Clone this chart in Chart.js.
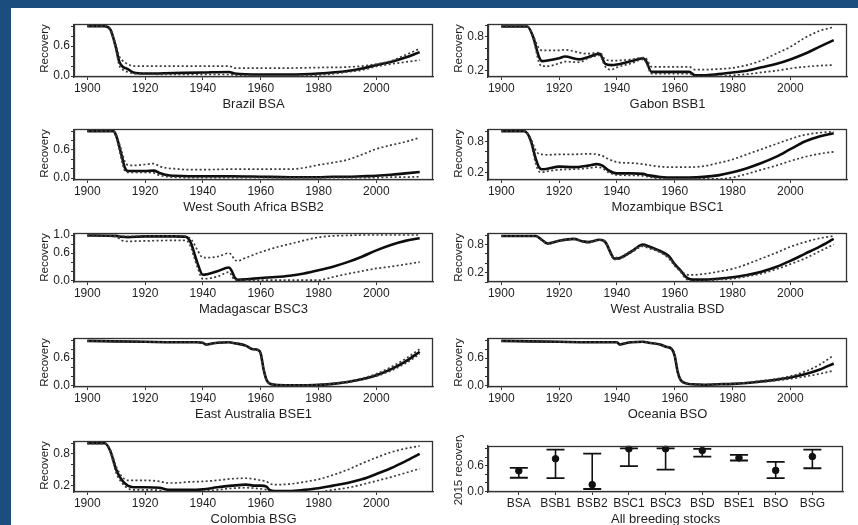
<!DOCTYPE html>
<html>
<head>
<meta charset="utf-8">
<script src="https://cdn.jsdelivr.net/npm/chart.js@4.4.1/dist/chart.umd.min.js"></script>
<style>
  html, body { margin: 0; padding: 0; }
  body { width: 858px; height: 525px; background: #1b4e7f; position: relative; overflow: hidden; }
  #sheet { position: absolute; left: 11px; top: 8px; width: 847px; height: 517px; background: #fff; }
  canvas { position: absolute; }
</style>
</head>
<body>
<div id="sheet"></div>
<script>
// --- Brazil BSA
const braYears = [1900,1906,1908,1910,1911,1912,1914,1916,1920,1930,1940,1949,1951,1960,1970,1980,1990,1995,2000,2005,2010,2015];
const braMid = [1.0,1.0,0.93,0.55,0.3,0.2,0.14,0.07,0.05,0.06,0.07,0.08,0.05,0.03,0.03,0.05,0.1,0.15,0.22,0.28,0.37,0.48];
const braHi  = [1.0,1.0,0.94,0.6,0.4,0.32,0.24,0.2,0.2,0.2,0.2,0.2,0.16,0.16,0.16,0.17,0.18,0.2,0.24,0.3,0.42,0.55];
const braLo  = [1.0,1.0,0.92,0.5,0.22,0.14,0.08,0.05,0.04,0.03,0.03,0.03,0.02,0.01,0.01,0.02,0.08,0.12,0.19,0.24,0.28,0.32];

// --- Gabon BSB1
const gabYears = [1900,1909,1911,1913,1914,1916,1920,1922,1927,1930,1934,1936,1938,1940,1945,1949,1950,1952,1956,1960,1965,1967,1970,1975,1980,1985,1990,1995,2000,2005,2010,2015];
const gabMid = [0.98,0.98,0.8,0.45,0.37,0.38,0.42,0.45,0.4,0.44,0.5,0.32,0.3,0.31,0.37,0.42,0.38,0.18,0.18,0.18,0.18,0.12,0.12,0.14,0.17,0.2,0.26,0.32,0.4,0.5,0.62,0.74];
const gabHi  = [0.98,0.98,0.82,0.6,0.56,0.56,0.56,0.57,0.52,0.5,0.52,0.4,0.38,0.38,0.4,0.43,0.42,0.27,0.27,0.27,0.27,0.22,0.22,0.23,0.25,0.3,0.38,0.5,0.62,0.78,0.9,0.97];
const gabLo  = [0.98,0.98,0.78,0.35,0.28,0.28,0.33,0.36,0.35,0.42,0.47,0.27,0.22,0.26,0.33,0.4,0.35,0.15,0.15,0.15,0.15,0.1,0.1,0.1,0.12,0.14,0.17,0.2,0.24,0.27,0.29,0.3];

// --- West South Africa BSB2
const wsaYears = [1900,1909,1910,1912,1913,1914,1916,1920,1923,1925,1928,1930,1935,1940,1950,1960,1970,1975,1980,1985,1990,1995,2000,2005,2010,2015];
const wsaMid = [1.0,1.0,0.9,0.45,0.22,0.15,0.15,0.15,0.16,0.11,0.06,0.05,0.04,0.04,0.04,0.03,0.02,0.02,0.02,0.03,0.03,0.04,0.05,0.07,0.1,0.13];
const wsaHi  = [1.0,1.0,0.92,0.55,0.35,0.28,0.27,0.29,0.31,0.25,0.21,0.2,0.18,0.18,0.19,0.19,0.19,0.22,0.28,0.33,0.39,0.5,0.62,0.7,0.77,0.86];
const wsaLo  = [1.0,1.0,0.88,0.35,0.15,0.12,0.12,0.12,0.11,0.06,0.03,0.02,0.01,0.01,0.01,0.01,0.01,0.01,0.01,0.01,0.01,0.01,0.01,0.02,0.02,0.03];

// --- Mozambique BSC1
const mozYears = [1900,1908,1910,1912,1913,1914,1916,1920,1925,1930,1933,1935,1937,1940,1945,1949,1951,1955,1960,1965,1970,1975,1980,1985,1990,1995,2000,2005,2010,2015];
const mozMid = [1.0,1.0,0.85,0.45,0.3,0.26,0.27,0.31,0.3,0.33,0.36,0.33,0.24,0.18,0.18,0.17,0.14,0.11,0.1,0.1,0.11,0.14,0.2,0.28,0.38,0.5,0.65,0.8,0.9,0.96];
const mozHi  = [1.0,1.0,0.88,0.62,0.56,0.55,0.54,0.55,0.55,0.56,0.55,0.52,0.46,0.4,0.38,0.36,0.34,0.31,0.3,0.3,0.32,0.38,0.45,0.55,0.65,0.75,0.85,0.93,0.97,0.99];
const mozLo  = [1.0,1.0,0.82,0.35,0.22,0.2,0.22,0.25,0.26,0.28,0.3,0.28,0.2,0.15,0.14,0.13,0.11,0.08,0.07,0.07,0.07,0.07,0.1,0.17,0.25,0.33,0.42,0.5,0.56,0.6];

// --- Madagascar BSC3
const madYears = [1900,1910,1912,1914,1920,1930,1934,1935,1936,1937,1938,1940,1945,1949,1950,1951,1952,1955,1960,1965,1970,1975,1980,1985,1990,1995,2000,2005,2010,2015];
const madMid = [0.99,0.98,0.96,0.95,0.97,0.97,0.96,0.92,0.8,0.6,0.4,0.12,0.2,0.28,0.2,0.06,0.01,0.02,0.05,0.07,0.1,0.15,0.22,0.3,0.4,0.52,0.66,0.78,0.87,0.93];
const madHi  = [0.99,0.98,0.97,0.97,0.98,0.98,0.97,0.95,0.9,0.8,0.68,0.5,0.52,0.6,0.55,0.45,0.43,0.5,0.62,0.72,0.8,0.88,0.95,0.98,0.99,1.0,1.0,1.0,1.0,1.0];
const madLo  = [0.99,0.96,0.88,0.86,0.87,0.88,0.88,0.84,0.7,0.5,0.3,0.03,0.08,0.18,0.1,0.0,0.0,0.0,0.0,0.0,0.0,0.0,0.0,0.07,0.14,0.2,0.26,0.3,0.35,0.4];

// --- West Australia BSD
const waYears = [1900,1912,1914,1916,1920,1925,1928,1930,1934,1936,1938,1939,1940,1945,1949,1951,1955,1958,1960,1962,1964,1966,1970,1975,1980,1985,1990,1995,2000,2005,2010,2015];
const waMid = [0.98,0.98,0.9,0.82,0.88,0.92,0.87,0.85,0.9,0.85,0.6,0.5,0.5,0.65,0.8,0.76,0.66,0.55,0.38,0.25,0.1,0.05,0.05,0.07,0.1,0.15,0.22,0.32,0.45,0.6,0.75,0.92];
const waHi  = [0.98,0.98,0.9,0.83,0.88,0.92,0.88,0.86,0.9,0.86,0.62,0.52,0.52,0.66,0.77,0.74,0.64,0.52,0.36,0.24,0.16,0.15,0.17,0.22,0.28,0.38,0.5,0.62,0.75,0.85,0.93,0.98];
const waLo  = [0.98,0.98,0.89,0.81,0.87,0.91,0.86,0.84,0.89,0.84,0.58,0.48,0.48,0.63,0.76,0.72,0.63,0.5,0.34,0.22,0.06,0.03,0.03,0.05,0.07,0.12,0.18,0.27,0.38,0.5,0.65,0.8];

// --- East Australia BSE1
const eaYears = [1900,1910,1920,1930,1938,1940,1941,1943,1945,1949,1951,1955,1957,1959,1960,1961,1962,1963,1965,1970,1975,1980,1985,1990,1995,2000,2005,2010,2015];
const eaMid = [0.98,0.97,0.96,0.95,0.95,0.94,0.9,0.92,0.94,0.95,0.93,0.87,0.8,0.78,0.7,0.35,0.12,0.04,0.01,0.0,0.0,0.01,0.03,0.07,0.13,0.22,0.35,0.52,0.74];
const eaHi  = [0.98,0.97,0.96,0.95,0.95,0.94,0.9,0.92,0.94,0.95,0.93,0.87,0.8,0.78,0.7,0.35,0.12,0.04,0.01,0.0,0.0,0.01,0.04,0.08,0.15,0.25,0.4,0.58,0.8];
const eaLo  = [0.98,0.97,0.96,0.95,0.95,0.94,0.9,0.92,0.94,0.95,0.93,0.87,0.8,0.78,0.7,0.35,0.12,0.04,0.01,0.0,0.0,0.01,0.03,0.06,0.12,0.2,0.32,0.48,0.69];

// --- Oceania BSO
const ocYears = [1900,1910,1920,1930,1938,1940,1941,1943,1945,1949,1951,1955,1957,1959,1960,1961,1962,1964,1966,1970,1975,1980,1985,1990,1995,2000,2005,2010,2015];
const ocMid = [0.98,0.97,0.96,0.95,0.95,0.95,0.9,0.93,0.95,0.96,0.94,0.9,0.85,0.8,0.65,0.3,0.12,0.04,0.02,0.01,0.02,0.03,0.05,0.08,0.12,0.17,0.24,0.34,0.48];
const ocHi  = [0.98,0.97,0.96,0.95,0.95,0.95,0.9,0.93,0.95,0.96,0.94,0.9,0.85,0.8,0.65,0.3,0.12,0.04,0.02,0.01,0.02,0.03,0.06,0.1,0.14,0.2,0.3,0.45,0.66];
const ocLo  = [0.98,0.97,0.96,0.95,0.95,0.95,0.9,0.93,0.95,0.96,0.94,0.9,0.85,0.8,0.65,0.3,0.12,0.04,0.02,0.01,0.02,0.03,0.05,0.07,0.1,0.14,0.19,0.25,0.32];

// --- Colombia BSG
const colYears = [1900,1906,1908,1910,1912,1914,1916,1920,1925,1928,1930,1935,1940,1945,1950,1955,1958,1960,1962,1963,1965,1970,1975,1980,1985,1990,1995,2000,2005,2010,2015];
const colMid = [1.0,1.0,0.85,0.5,0.3,0.2,0.17,0.17,0.16,0.12,0.12,0.12,0.13,0.17,0.2,0.22,0.2,0.2,0.18,0.12,0.1,0.1,0.12,0.15,0.2,0.25,0.32,0.42,0.53,0.66,0.8];
const colHi  = [1.0,1.0,0.87,0.56,0.37,0.3,0.3,0.3,0.28,0.25,0.25,0.27,0.28,0.3,0.33,0.34,0.32,0.3,0.28,0.24,0.22,0.23,0.27,0.32,0.4,0.5,0.62,0.73,0.83,0.9,0.95];
const colLo  = [1.0,1.0,0.83,0.44,0.25,0.15,0.12,0.12,0.11,0.08,0.08,0.08,0.09,0.12,0.15,0.16,0.15,0.14,0.12,0.08,0.07,0.07,0.07,0.08,0.12,0.16,0.22,0.29,0.36,0.44,0.52];

// --- 2015 recovery, all breeding stocks
const stocks  = ['BSA','BSB1','BSB2','BSC1','BSC3','BSD','BSE1','BSO','BSG'];
const rec2015 = [0.48,0.76,0.16,0.99,0.99,0.95,0.78,0.49,0.81];
const recLo   = [0.32,0.31,0.06,0.59,0.51,0.81,0.72,0.31,0.54];
const recHi   = [0.55,0.97,0.88,1.0,1.0,0.99,0.85,0.69,0.97];

const labelsA = ['0.0','0.6'];
const labelsB = ['0.2','0.8'];
const labelsC = ['0.0','0.6','1.0'];

const FONT = "'Liberation Sans', Arial, sans-serif";
const INK = '#1e1e1e';
Chart.defaults.font.family = FONT;
Chart.defaults.color = INK;

// box-plot frame on all four sides, like R
const framePlugin = {
  id: 'frame',
  afterDraw(chart) {
    const a = chart.chartArea, ctx = chart.ctx;
    ctx.save();
    ctx.strokeStyle = '#333';
    ctx.lineWidth = 1.3;
    ctx.strokeRect(Math.round(a.left) + 0.5, Math.round(a.top) + 0.5,
      Math.round(a.right - a.left) - 1, Math.round(a.bottom - a.top) - 1);
    ctx.restore();
  }
};

// column x of plot box, rows [top, bottom]
const colLeft = [74, 488];
const boxW = 359;
const rows = [[24, 77], [129, 180], [233, 282], [338, 387], [441, 492]];
const PAD_T = 8, PAD_R = 8, YW = 36, XH = 35;

function addCanvas(left, top, w, h) {
  const c = document.createElement('canvas');
  c.width = w; c.height = h;
  c.style.left = left + 'px'; c.style.top = top + 'px';
  c.style.width = w + 'px'; c.style.height = h + 'px';
  document.body.appendChild(c);
  return c;
}

function yScale(min, max, shown, title, align) {
  return {
    type: 'linear', min: min, max: max,
    afterFit: s => { s.width = YW; },
    border: { display: true, color: '#333', width: 1.3 },
    grid: { display: true, drawOnChartArea: false, drawTicks: true, tickLength: 3, color: '#333' },
    ticks: {
      stepSize: 0.2, includeBounds: false, autoSkip: false, padding: 1,
      font: { size: 12 },
      callback: v => shown.includes(v.toFixed(1)) ? v.toFixed(1) : ''
    },
    title: { display: true, text: title, align: align, padding: 0, font: { size: 11.5 } }
  };
}

function xScale(min, max, step, fmt, title) {
  return {
    type: 'linear', min: min, max: max,
    afterFit: s => { s.height = XH; },
    border: { display: true, color: '#333', width: 1.3 },
    grid: { display: true, drawOnChartArea: false, drawTicks: true, tickLength: 3, color: '#333' },
    ticks: { stepSize: step, includeBounds: false, autoSkip: false, maxRotation: 0, padding: 1,
             font: { size: 12 }, callback: fmt },
    title: { display: true, text: title, padding: 0, font: { size: 13 } }
  };
}

function pts(xs, ys) { return xs.map((x, i) => ({ x: x, y: ys[i] })); }

function linePanel(name, col, row, years, mid, lo, hi, ymin, ymax, shown) {
  const [t, b] = rows[row];
  const cv = addCanvas(colLeft[col] - YW, t - PAD_T, YW + boxW + PAD_R, PAD_T + (b - t) + XH);
  const dotted = { borderColor: '#3a3a3a', borderWidth: 1.7, borderDash: [2, 2.4], pointRadius: 0, fill: false, cubicInterpolationMode: 'monotone' };
  new Chart(cv, {
    type: 'line',
    data: {
      datasets: [
        Object.assign({ data: pts(years, hi) }, dotted),
        Object.assign({ data: pts(years, lo) }, dotted),
        { data: pts(years, mid), borderColor: '#0d0d0d', borderWidth: 2.6, pointRadius: 0, fill: false, cubicInterpolationMode: 'monotone' }
      ]
    },
    options: {
      responsive: false, animation: false, devicePixelRatio: 1,
      layout: { padding: { top: PAD_T, right: PAD_R, left: 0, bottom: 0 } },
      plugins: { legend: { display: false }, tooltip: { enabled: false } },
      scales: {
        x: xScale(1895.4, 2019.6, 20, v => String(v), name),
        y: yScale(ymin, ymax, shown, 'Recovery', 'end')
      }
    },
    plugins: [framePlugin]
  });
}

linePanel('Brazil BSA', 0, 0, braYears, braMid, braLo, braHi, -0.02, 1.04, labelsA);
linePanel('Gabon BSB1', 1, 0, gabYears, gabMid, gabLo, gabHi, 0.09, 1.02, labelsB);
linePanel('West South Africa BSB2', 0, 1, wsaYears, wsaMid, wsaLo, wsaHi, -0.04, 1.04, labelsA);
linePanel('Mozambique BSC1', 1, 1, mozYears, mozMid, mozLo, mozHi, 0.05, 1.04, labelsB);
linePanel('Madagascar BSC3', 0, 2, madYears, madMid, madLo, madHi, -0.04, 1.04, labelsC);
linePanel('West Australia BSD', 1, 2, waYears, waMid, waLo, waHi, 0.0, 1.04, labelsB);
linePanel('East Australia BSE1', 0, 3, eaYears, eaMid, eaLo, eaHi, -0.04, 1.04, labelsA);
linePanel('Oceania BSO', 1, 3, ocYears, ocMid, ocLo, ocHi, -0.04, 1.04, labelsA);
linePanel('Colombia BSG', 0, 4, colYears, colMid, colLo, colHi, 0.08, 1.04, labelsB);

// summary panel with error bars
(function () {
  const t = 443, b = 492, w = 358;
  const cv = addCanvas(colLeft[1] - YW, t - PAD_T, YW + w + PAD_R, PAD_T + (b - t) + XH);
  const bars = stocks.map((s, i) => ({
    data: [{ x: i + 1, y: recLo[i] }, { x: i + 1, y: recHi[i] }],
    borderColor: '#111', borderWidth: 1.6,
    pointStyle: 'line', pointRadius: 9, pointBorderWidth: 1.8, pointBorderColor: '#111'
  }));
  bars.push({
    data: stocks.map((s, i) => ({ x: i + 1, y: rec2015[i] })),
    showLine: false, pointRadius: 3.3, pointBackgroundColor: '#111', pointBorderColor: '#111'
  });
  new Chart(cv, {
    type: 'line',
    data: { datasets: bars },
    options: {
      responsive: false, animation: false, devicePixelRatio: 1,
      layout: { padding: { top: PAD_T, right: PAD_R, left: 0, bottom: 0 } },
      plugins: { legend: { display: false }, tooltip: { enabled: false } },
      scales: {
        x: xScale(0.16, 9.84, 1, v => stocks[v - 1] || '', 'All breeding stocks'),
        y: yScale(-0.01, 1.06, labelsA, '2015 recovery', 'center')
      }
    },
    plugins: [framePlugin]
  });
})();
</script>
</body>
</html>
